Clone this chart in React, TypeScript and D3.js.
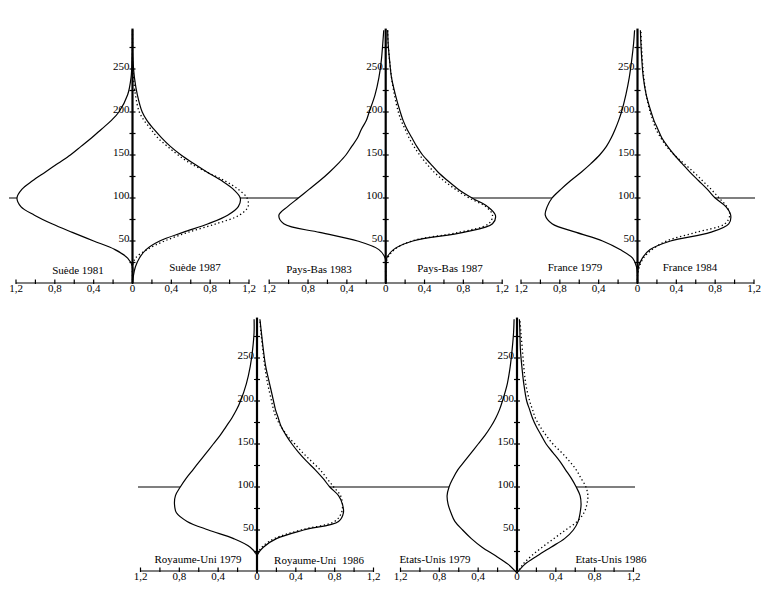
import { useEffect, useRef } from 'react';
import * as d3 from 'd3';

// income level (% of median) at which each density value was read
const incomeLevels = [0, 10, 20, 30, 40, 50, 60, 70, 80, 90, 100, 110, 120, 130, 140, 150, 160, 170, 180, 190, 200, 220, 240, 260, 280, 295];

const sweden1981 = [0, 0, 0, 0.05, 0.18, 0.4, 0.62, 0.83, 1.01, 1.15, 1.19, 1.14, 1.03, 0.9, 0.77, 0.64, 0.53, 0.42, 0.32, 0.22, 0.14, 0.05, 0.015, 0.005, 0, 0];
const sweden1987 = [0, 0.01, 0.03, 0.07, 0.14, 0.28, 0.52, 0.78, 0.98, 1.09, 1.11, 1.04, 0.92, 0.77, 0.63, 0.5, 0.39, 0.3, 0.22, 0.15, 0.1, 0.05, 0.02, 0.005, 0, 0];
const sweden1987b = [0, 0, 0, 0.03, 0.15, 0.33, 0.57, 0.86, 1.1, 1.19, 1.18, 1.09, 0.95, 0.77, 0.6, 0.47, 0.36, 0.26, 0.19, 0.12, 0.07, 0.03, 0.01, 0, 0, 0];

const netherlands1983 = [0, 0, 0, 0.005, 0.07, 0.29, 0.68, 1.05, 1.1, 1.01, 0.9, 0.79, 0.68, 0.58, 0.49, 0.41, 0.35, 0.29, 0.25, 0.2, 0.17, 0.11, 0.07, 0.045, 0.03, 0.02];
const netherlands1987 = [0, 0, 0, 0.01, 0.08, 0.28, 0.8, 1.1, 1.13, 1.05, 0.89, 0.75, 0.64, 0.54, 0.46, 0.38, 0.32, 0.27, 0.22, 0.18, 0.15, 0.1, 0.06, 0.04, 0.025, 0.02];
const netherlands1987b = [0, 0, 0, 0.02, 0.09, 0.27, 0.75, 1.06, 1.1, 1.03, 0.86, 0.72, 0.6, 0.5, 0.42, 0.35, 0.29, 0.24, 0.2, 0.16, 0.13, 0.09, 0.06, 0.04, 0.025, 0.02];

const france1979 = [0, 0, 0.01, 0.05, 0.18, 0.36, 0.63, 0.88, 0.95, 0.93, 0.88, 0.79, 0.69, 0.58, 0.48, 0.39, 0.32, 0.27, 0.23, 0.195, 0.165, 0.12, 0.085, 0.06, 0.04, 0.03];
const france1984 = [0, 0, 0.01, 0.05, 0.13, 0.34, 0.75, 0.94, 0.96, 0.91, 0.8, 0.72, 0.63, 0.54, 0.46, 0.38, 0.31, 0.25, 0.21, 0.17, 0.14, 0.09, 0.06, 0.045, 0.035, 0.03];
const france1984b = [0, 0, 0.02, 0.06, 0.15, 0.3, 0.6, 0.9, 0.95, 0.92, 0.84, 0.76, 0.67, 0.58, 0.48, 0.38, 0.3, 0.24, 0.19, 0.16, 0.13, 0.09, 0.065, 0.05, 0.04, 0.035];

const uk1979 = [0, 0, 0, 0.07, 0.24, 0.5, 0.72, 0.83, 0.85, 0.84, 0.79, 0.73, 0.66, 0.59, 0.52, 0.45, 0.38, 0.32, 0.26, 0.21, 0.17, 0.11, 0.07, 0.045, 0.03, 0.03];
const uk1986 = [0, 0, 0, 0.065, 0.2, 0.48, 0.84, 0.89, 0.88, 0.84, 0.75, 0.68, 0.6, 0.51, 0.43, 0.36, 0.3, 0.25, 0.22, 0.19, 0.17, 0.13, 0.09, 0.065, 0.045, 0.03];
const uk1986b = [0, 0, 0, 0.05, 0.18, 0.45, 0.8, 0.87, 0.88, 0.86, 0.79, 0.72, 0.65, 0.56, 0.47, 0.39, 0.31, 0.25, 0.2, 0.17, 0.15, 0.11, 0.08, 0.06, 0.04, 0.03];

const us1979 = [0, 0.09, 0.22, 0.36, 0.47, 0.56, 0.64, 0.68, 0.71, 0.72, 0.7, 0.66, 0.61, 0.54, 0.47, 0.4, 0.33, 0.27, 0.22, 0.18, 0.15, 0.1, 0.07, 0.05, 0.035, 0.03];
const us1986 = [0, 0.08, 0.21, 0.35, 0.49, 0.58, 0.63, 0.65, 0.66, 0.65, 0.61, 0.56, 0.5, 0.44, 0.37, 0.3, 0.25, 0.2, 0.16, 0.13, 0.1, 0.07, 0.05, 0.035, 0.03, 0.025];
const us1986b = [0, 0.06, 0.15, 0.26, 0.38, 0.5, 0.62, 0.69, 0.72, 0.73, 0.71, 0.66, 0.61, 0.54, 0.46, 0.37, 0.3, 0.24, 0.19, 0.16, 0.13, 0.09, 0.07, 0.055, 0.04, 0.03];

const leftLabels = ['Suède 1981', 'Pays-Bas 1983', 'France 1979', 'Royaume-Uni 1979', 'Etats-Unis 1979'];
const rightLabels = ['Suède 1987', 'Pays-Bas 1987', 'France 1984', 'Royaume-Uni  1986', 'Etats-Unis 1986'];

const xLabelTicks = [-1.2, -0.8, -0.4, 0, 0.4, 0.8, 1.2];
const xMinorTicks = [-1.2, -1, -0.8, -0.6, -0.4, -0.2, 0, 0.2, 0.4, 0.6, 0.8, 1, 1.2];
const yLabelTicks = [50, 100, 150, 200, 250];
const yMinorTicks = [25, 50, 75, 100, 125, 150, 175, 200, 225, 250, 275];
const referenceLevel = 100;
const axisTop = 297;

const rows = [
  { zeroY: 284, axisY: 283, lineFrom: 9, lineTo: 755 },
  { zeroY: 573, axisY: 571, lineFrom: 138, lineTo: 635 },
];

const panels = [
  { cx: 132.5, row: 0, left: sweden1981, right: sweden1987, alt: sweden1987b, leftPos: [78, 274], rightPos: [195, 271] },
  { cx: 385.7, row: 0, left: netherlands1983, right: netherlands1987, alt: netherlands1987b, leftPos: [319, 273], rightPos: [450, 272] },
  { cx: 637.5, row: 0, left: france1979, right: france1984, alt: france1984b, leftPos: [575, 271], rightPos: [690, 271] },
  { cx: 257, row: 1, left: uk1979, right: uk1986, alt: uk1986b, leftPos: [198, 563], rightPos: [319, 564] },
  { cx: 517, row: 1, left: us1979, right: us1986, alt: us1986b, leftPos: [435, 563], rightPos: [611, 563] },
];

const FONT = '"Liberation Serif", "Times New Roman", serif';
const fmt = (d: number) => (d === 0 ? '0' : Math.abs(d).toFixed(1).replace('.', ','));

const App = () => {
  const svgRef = useRef<SVGSVGElement>(null);

  useEffect(() => {
    if (!svgRef.current) return;
    document.body.style.margin = '0';
    const svg = d3.select(svgRef.current);
    svg.selectAll('*').remove();

    // reference line at median income, one per row
    rows.forEach(r => {
      const y = r.zeroY - 0.86 * referenceLevel;
      svg.append('line')
        .attr('x1', r.lineFrom).attr('x2', r.lineTo)
        .attr('y1', y).attr('y2', y)
        .attr('stroke', '#000').attr('stroke-width', 1.2);
    });

    panels.forEach((p, i) => {
      const r = rows[p.row];
      const x = d3.scaleLinear().domain([-1.2, 1.2]).range([p.cx - 116.5, p.cx + 116.5]);
      const y = d3.scaleLinear().domain([0, 300]).range([r.zeroY, r.zeroY - 258]);
      const g = svg.append('g');

      const line = (sign: number) => d3.line<number>()
        .x(d => x(sign * d))
        .y((_, k) => y(incomeLevels[k]))
        .curve(d3.curveCatmullRom.alpha(0.5));

      // white body between the two solid curves hides the reference line
      const outline = [
        ...p.left.map((d, k) => [x(-d), y(incomeLevels[k])] as [number, number]),
        ...p.right.map((d, k) => [x(d), y(incomeLevels[k])] as [number, number]).reverse(),
      ];
      g.append('path')
        .attr('d', d3.line().curve(d3.curveCatmullRomClosed.alpha(0.5))(outline))
        .attr('fill', '#fff').attr('stroke', 'none');

      g.append('path').datum(p.left).attr('d', line(-1))
        .attr('fill', 'none').attr('stroke', '#000').attr('stroke-width', 1.2);
      g.append('path').datum(p.right).attr('d', line(1))
        .attr('fill', 'none').attr('stroke', '#000').attr('stroke-width', 1.2);
      g.append('path').datum(p.alt).attr('d', line(1))
        .attr('fill', 'none').attr('stroke', '#000').attr('stroke-width', 1.3)
        .attr('stroke-dasharray', '1.3,2.6');

      // vertical axis
      g.append('line')
        .attr('x1', x(0)).attr('x2', x(0))
        .attr('y1', r.axisY).attr('y2', y(axisTop))
        .attr('stroke', '#000').attr('stroke-width', 2.2);
      yMinorTicks.forEach(t => {
        g.append('line')
          .attr('x1', x(0) - 3).attr('x2', x(0) + 3)
          .attr('y1', y(t)).attr('y2', y(t))
          .attr('stroke', '#000').attr('stroke-width', 1.2);
      });
      yLabelTicks.forEach(t => {
        g.append('text')
          .attr('x', x(0) - 3).attr('y', y(t) + 1)
          .attr('text-anchor', 'end')
          .style('font-family', FONT).style('font-size', '11px')
          .text(t);
      });

      // horizontal axis
      g.append('line')
        .attr('x1', x(-1.2)).attr('x2', x(1.2))
        .attr('y1', r.axisY).attr('y2', r.axisY)
        .attr('stroke', '#000').attr('stroke-width', 1.2);
      xMinorTicks.forEach(t => {
        g.append('line')
          .attr('x1', x(t)).attr('x2', x(t))
          .attr('y1', r.axisY - 3.5).attr('y2', r.axisY + 1)
          .attr('stroke', '#000').attr('stroke-width', 1.2);
      });
      xLabelTicks.forEach(t => {
        g.append('text')
          .attr('x', x(t)).attr('y', r.axisY + 9)
          .attr('text-anchor', 'middle')
          .style('font-family', FONT).style('font-size', '11px')
          .text(fmt(t));
      });

      // panel labels
      g.append('text')
        .attr('x', p.leftPos[0]).attr('y', p.leftPos[1])
        .attr('text-anchor', 'middle')
        .style('font-family', FONT).style('font-size', '11px')
        .style('white-space', 'pre')
        .text(leftLabels[i]);
      g.append('text')
        .attr('x', p.rightPos[0]).attr('y', p.rightPos[1])
        .attr('text-anchor', 'middle')
        .style('font-family', FONT).style('font-size', '11px')
        .style('white-space', 'pre')
        .text(rightLabels[i]);
    });
  }, []);

  return (
    <svg ref={svgRef} width={770} height={592} style={{ display: 'block', background: '#fff' }}></svg>
  );
};

export default App;
